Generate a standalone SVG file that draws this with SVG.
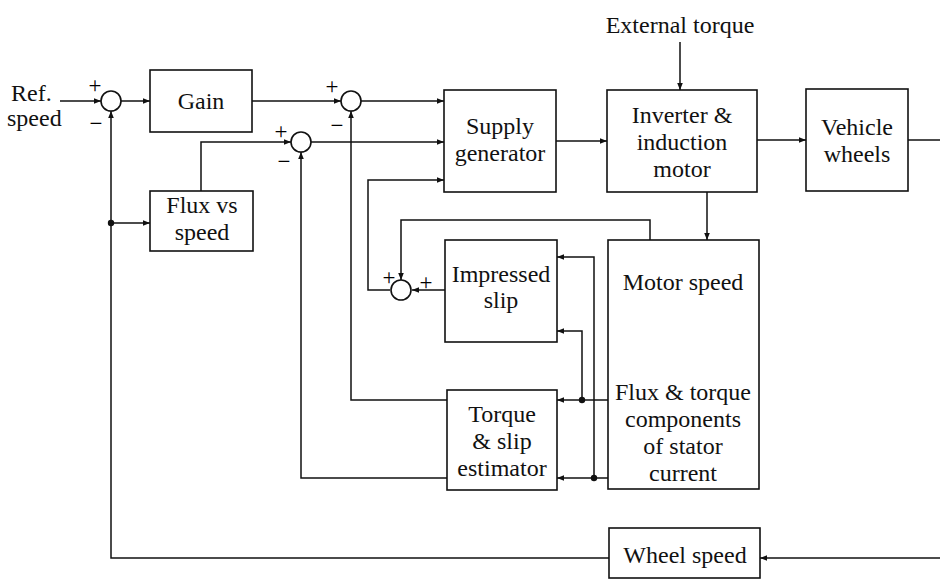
<svg xmlns="http://www.w3.org/2000/svg" width="940" height="584" viewBox="0 0 940 584">
<defs>
<marker id="ah" viewBox="0 0 10 10" refX="10" refY="5" markerWidth="8" markerHeight="7" markerUnits="userSpaceOnUse" orient="auto">
<path d="M0,1 L10,5 L0,9 Z" fill="#111"/>
</marker>
</defs>
<style>
rect.b{fill:#fff;stroke:#111;stroke-width:1.6}
circle.s{fill:#fff;stroke:#111;stroke-width:1.6}
.w{fill:none;stroke:#111;stroke-width:1.5}
.a{marker-end:url(#ah)}
text{font-family:"Liberation Serif","Times New Roman",serif;font-size:24px;fill:#111}
text.c{text-anchor:middle}
text.sg{font-size:23px;text-anchor:middle;fill:#000}
</style>
<rect width="940" height="584" fill="#fff"/>
<g id="connectors">
<path class="w a" d="M60,101 H101"/>
<path class="w a" d="M121,101 H150"/>
<path class="w a" d="M252,101 H341"/>
<path class="w a" d="M361,101 H444"/>
<path class="w a" d="M201,191 V142 H291"/>
<path class="w a" d="M311,142 H444"/>
<path class="w a" d="M390,290 H368 V180 H444"/>
<path class="w a" d="M556,141 H607"/>
<path class="w a" d="M680,42 V90"/>
<path class="w a" d="M757,140 H806"/>
<path class="w" d="M908,140 H940"/>
<path class="w a" d="M707,192 V240"/>
<path class="w a" d="M650,240 V220 H401 V280"/>
<path class="w a" d="M445,290 H412"/>
<path class="w a" d="M608,400 H557"/>
<path class="w a" d="M582,400 V331 H557"/>
<path class="w a" d="M608,478 H557"/>
<path class="w a" d="M594,478 V257 H557"/>
<path class="w a" d="M447,400 H351 V111"/>
<path class="w a" d="M447,478 H301 V152"/>
<path class="w a" d="M940,558 H760"/>
<path class="w a" d="M609,558 H111 V111"/>
<path class="w a" d="M111,223 H150"/>
<circle cx="111" cy="223" r="3.2" fill="#111"/>
<circle cx="582" cy="400" r="3.2" fill="#111"/>
<circle cx="594" cy="478" r="3.2" fill="#111"/>
</g>
<g id="sum1">
<circle class="s" cx="111" cy="101" r="10"/>
<text class="sg" x="95" y="93">+</text>
<text class="sg" x="96" y="131">−</text>
</g>
<g id="sum2">
<circle class="s" cx="351" cy="101" r="10"/>
<text class="sg" x="332" y="94">+</text>
<text class="sg" x="337" y="133">−</text>
</g>
<g id="sum3">
<circle class="s" cx="301" cy="142" r="10"/>
<text class="sg" x="281" y="139">+</text>
<text class="sg" x="284" y="169">−</text>
</g>
<g id="sum4">
<circle class="s" cx="401" cy="290" r="10"/>
<text class="sg" x="389" y="285">+</text>
<text class="sg" x="426" y="290">+</text>
</g>
<g id="ref">
<text x="11" y="101">Ref.</text>
<text x="7" y="126">speed</text>
</g>
<g id="ext">
<text class="c" x="680" y="33">External torque</text>
</g>
<g id="gain">
<rect class="b" x="150" y="70" width="102" height="62"/>
<text class="c" x="201" y="109">Gain</text>
</g>
<g id="flux">
<rect class="b" x="150" y="191" width="103" height="60"/>
<text class="c" x="202" y="213">Flux vs</text>
<text class="c" x="202" y="240">speed</text>
</g>
<g id="supply">
<rect class="b" x="444" y="90" width="112" height="102"/>
<text class="c" x="500" y="134">Supply</text>
<text class="c" x="500" y="161">generator</text>
</g>
<g id="inverter">
<rect class="b" x="607" y="90" width="150" height="102"/>
<text class="c" x="682" y="123">Inverter &amp;</text>
<text class="c" x="682" y="150">induction</text>
<text class="c" x="682" y="177">motor</text>
</g>
<g id="vehicle">
<rect class="b" x="806" y="89" width="102" height="102"/>
<text class="c" x="857" y="135">Vehicle</text>
<text class="c" x="857" y="162">wheels</text>
</g>
<g id="impressed">
<rect class="b" x="445" y="240" width="112" height="102"/>
<text class="c" x="501" y="282">Impressed</text>
<text class="c" x="501" y="308">slip</text>
</g>
<g id="motor">
<rect class="b" x="608" y="240" width="151" height="249"/>
<text class="c" x="683" y="290">Motor speed</text>
<text class="c" x="683" y="400">Flux &amp; torque</text>
<text class="c" x="683" y="427">components</text>
<text class="c" x="683" y="454">of stator</text>
<text class="c" x="683" y="481">current</text>
</g>
<g id="torque">
<rect class="b" x="447" y="390" width="110" height="100"/>
<text class="c" x="502" y="422">Torque</text>
<text class="c" x="502" y="449">&amp; slip</text>
<text class="c" x="502" y="476">estimator</text>
</g>
<g id="wheelspeed">
<rect class="b" x="609" y="528" width="151" height="50"/>
<text class="c" x="685" y="563">Wheel speed</text>
</g>
</svg>
